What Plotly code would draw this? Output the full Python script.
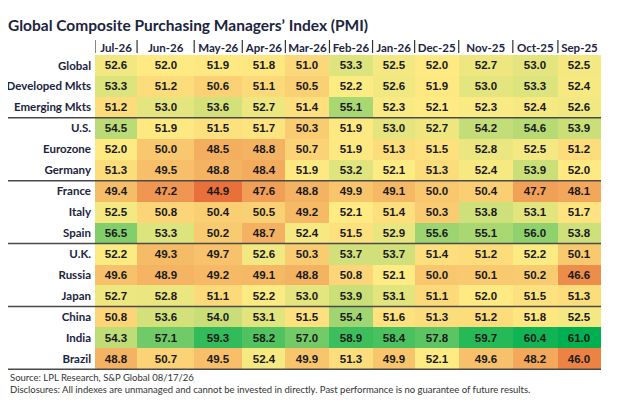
import plotly.graph_objects as go

# months, newest first
months = ["Jul-26", "Jun-26", "May-26", "Apr-26", "Mar-26", "Feb-26",
          "Jan-26", "Dec-25", "Nov-25", "Oct-25", "Sep-25"]
regions = ["Global", "Developed Mkts", "Emerging Mkts", "U.S.", "Eurozone",
           "Germany", "France", "Italy", "Spain", "U.K.", "Russia", "Japan",
           "China", "India", "Brazil"]

global_pmi = [52.6, 52.0, 51.9, 51.8, 51.0, 53.3, 52.5, 52.0, 52.7, 53.0, 52.5]
developed = [53.3, 51.2, 50.6, 51.1, 50.5, 52.2, 52.6, 51.9, 53.0, 53.3, 52.4]
emerging = [51.2, 53.0, 53.6, 52.7, 51.4, 55.1, 52.3, 52.1, 52.3, 52.4, 52.6]
us = [54.5, 51.9, 51.5, 51.7, 50.3, 51.9, 53.0, 52.7, 54.2, 54.6, 53.9]
eurozone = [52.0, 50.0, 48.5, 48.8, 50.7, 51.9, 51.3, 51.5, 52.8, 52.5, 51.2]
germany = [51.3, 49.5, 48.8, 48.4, 51.9, 53.2, 52.1, 51.3, 52.4, 53.9, 52.0]
france = [49.4, 47.2, 44.9, 47.6, 48.8, 49.9, 49.1, 50.0, 50.4, 47.7, 48.1]
italy = [52.5, 50.8, 50.4, 50.5, 49.2, 52.1, 51.4, 50.3, 53.8, 53.1, 51.7]
spain = [56.5, 53.3, 50.2, 48.7, 52.4, 51.5, 52.9, 55.6, 55.1, 56.0, 53.8]
uk = [52.2, 49.3, 49.7, 52.6, 50.3, 53.7, 53.7, 51.4, 51.2, 52.2, 50.1]
russia = [49.6, 48.9, 49.2, 49.1, 48.8, 50.8, 52.1, 50.0, 50.1, 50.2, 46.6]
japan = [52.7, 52.8, 51.1, 52.2, 53.0, 53.9, 53.1, 51.1, 52.0, 51.5, 51.3]
china = [50.8, 53.6, 54.0, 53.1, 51.5, 55.4, 51.6, 51.3, 51.2, 51.8, 52.5]
india = [54.3, 57.1, 59.3, 58.2, 57.0, 58.9, 58.4, 57.8, 59.7, 60.4, 61.0]
brazil = [48.8, 50.7, 49.5, 52.4, 49.9, 51.3, 49.9, 52.1, 49.6, 48.2, 46.0]

values = [global_pmi, developed, emerging, us, eurozone, germany, france,
          italy, spain, uk, russia, japan, china, india, brazil]

# layout stuff (page body adds an 8px margin, so the figure is 8px smaller)
col_w = [42, 57, 48, 43, 44, 43, 42, 44, 54, 45, 43]
edges = [0]
for w in col_w:
    edges.append(edges[-1] + w)
centers = [(a + b) / 2 for a, b in zip(edges[:-1], edges[1:])]
group_breaks = [2.5, 5.5, 8.5, 11.5, 14.5]

zmin, zmid, zmax = 44.9, 52.1, 61.0
p = (zmid - zmin) / (zmax - zmin)
colorscale = [[0, "#E8703A"], [p, "#FFEB84"], [1, "#00B050"]]

navy = "#1B2440"
label_font = "Lato, sans-serif"

W, H = 616, 400
ml, mt = 87, 47
plot_w = 506.0
plot_h = 315.0

heat = go.Heatmap(
    z=values,
    x=edges,
    y=regions,
    zmin=zmin,
    zmax=zmax,
    colorscale=colorscale,
    showscale=False,
    texttemplate="<b>%{z:.1f}</b>",
    textfont=dict(family="Liberation Sans, Arial, sans-serif", size=11.5, color="#1a1a1a"),
    hoverinfo="skip",
)

fig = go.Figure(data=[heat])

shapes = []
for yb in group_breaks:
    shapes.append(dict(type="line", xref="paper", yref="y",
                       x0=-ml / plot_w, x1=1, y0=yb, y1=yb,
                       line=dict(color="#4a4a4a", width=1.5)))
for xe in edges[:-1]:
    shapes.append(dict(type="line", xref="x", yref="paper",
                       x0=xe, x1=xe, y0=1 + 2 / plot_h, y1=1 + 15 / plot_h,
                       line=dict(color="#333333", width=1.2)))

fig.update_layout(
    width=W,
    height=H,
    margin=dict(l=ml, r=W - ml - plot_w, t=mt, b=H - mt - plot_h),
    paper_bgcolor="white",
    plot_bgcolor="white",
    title=dict(
        text="<b>Global Composite Purchasing Managers\u2019 Index (PMI)</b>",
        x=0, xanchor="left", y=1 - 18 / H, yanchor="middle",
        font=dict(family="Lato, Open Sans, sans-serif", size=15.5, color=navy),
    ),
    xaxis=dict(
        side="top",
        range=[edges[0], edges[-1]],
        tickvals=centers,
        ticktext=["<b>%s</b>" % m for m in months],
        tickangle=0,
        tickfont=dict(family=label_font, size=11.5, color=navy),
        showgrid=False, zeroline=False, showline=False, ticks="",
        automargin=False,
        fixedrange=True,
    ),
    yaxis=dict(
        autorange="reversed",
        tickvals=regions,
        ticktext=["<b>%s</b>" % r for r in regions],
        tickfont=dict(family=label_font, size=11.5, color=navy),
        showgrid=False, zeroline=False, showline=False, ticks="",
        ticklabelstandoff=3,
        automargin=False,
        fixedrange=True,
    ),
    shapes=shapes,
    annotations=[
        dict(text="Source: LPL Research, S&P Global 08/17/26",
             xref="paper", yref="paper", x=-ml / plot_w, y=-7 / plot_h,
             xanchor="left", yanchor="middle", showarrow=False,
             font=dict(family="Lato, Open Sans, sans-serif", size=9.5, color="#333333")),
        dict(text="Disclosures: All indexes are unmanaged and cannot be invested in directly. "
                  "Past performance is no guarantee of future results.",
             xref="paper", yref="paper", x=-ml / plot_w, y=-19 / plot_h,
             xanchor="left", yanchor="middle", showarrow=False,
             font=dict(family="Lato, Open Sans, sans-serif", size=9.5, color="#333333")),
    ],
)

fig.write_html("out.html")
